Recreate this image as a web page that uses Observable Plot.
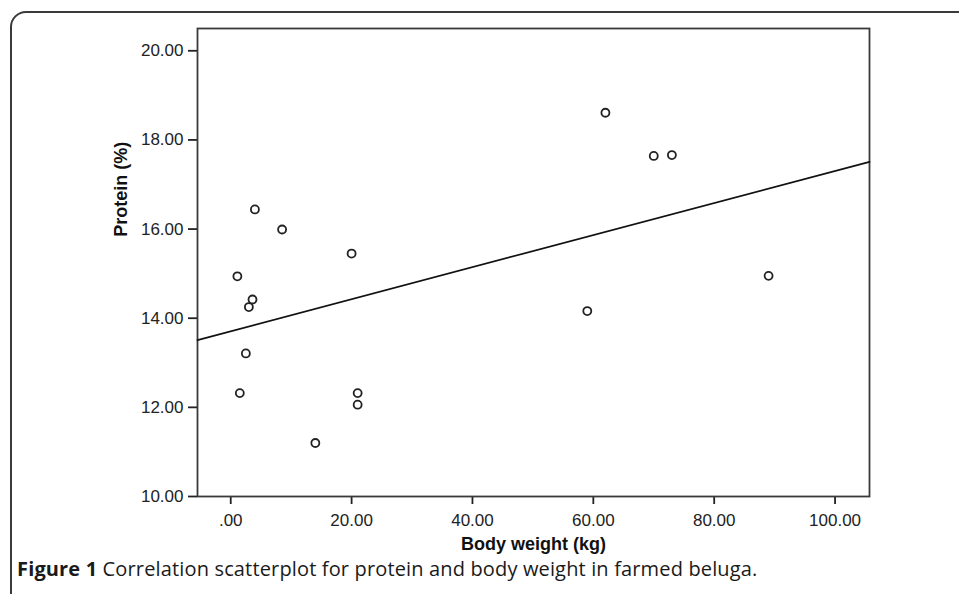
<!DOCTYPE html>
<html>
<head>
<meta charset="utf-8">
<script src="https://cdn.jsdelivr.net/npm/d3@7"></script>
<script src="https://cdn.jsdelivr.net/npm/@observablehq/plot@0.6"></script>
<style>
  html, body { margin: 0; padding: 0; background: #fff; overflow: hidden; }
  #wrap { position: relative; width: 959px; height: 594px; overflow: hidden; }
  #border { position: absolute; left: 10px; top: 11px; width: 1100px; height: 800px;
            border: 2px solid #3a3a3a; border-top-left-radius: 16px; box-sizing: border-box; }
  #chart { position: absolute; left: 0; top: 0; }
  #caption { position: absolute; left: 17px; top: 558px; font-family: "Open Sans", sans-serif;
             font-size: 20px; line-height: 22px; color: #1a1a1a; white-space: nowrap; letter-spacing: 0.15px; }
  #caption b { font-weight: 700; }
</style>
</head>
<body>
<div id="wrap">
  <div id="border"></div>
  <div id="chart"></div>
  <div id="caption"><b>Figure 1</b> Correlation scatterplot for protein and body weight in farmed beluga.</div>
</div>
<script>
// Data
const bodyWeight = [4.0, 8.5, 1.1, 3.6, 3.0, 2.5, 1.5, 20.0, 14.0, 21.0, 21.0, 62.0, 70.0, 73.0, 89.0, 59.0];
const protein    = [16.44, 15.99, 14.94, 14.42, 14.25, 13.21, 12.32, 15.45, 11.20, 12.32, 12.06, 18.61, 17.64, 17.66, 14.95, 14.16];

const xTicks = [0, 20, 40, 60, 80, 100];
const xTickLabels = [".00", "20.00", "40.00", "60.00", "80.00", "100.00"];
const yTicks = [10, 12, 14, 16, 18, 20];
const yTickLabels = ["10.00", "12.00", "14.00", "16.00", "18.00", "20.00"];
const xDomain = [-5.5, 105.7];
const yDomain = [10, 20.5];
const xTitle = "Body weight (kg)";
const yTitle = "Protein (%)";

const points = bodyWeight.map((w, i) => ({w, p: protein[i]}));

// least-squares fit line across the full x range
const mx = d3.mean(bodyWeight), my = d3.mean(protein);
const sxy = d3.sum(points, d => (d.w - mx) * (d.p - my));
const sxx = d3.sum(points, d => (d.w - mx) ** 2);
const slope = sxy / sxx, intercept = my - slope * mx;
const fit = xDomain.map(w => ({w, p: intercept + slope * w}));

const ink = "#222";

const chart = Plot.plot({
  width: 959,
  height: 560,
  marginLeft: 197,
  marginRight: 90,
  marginTop: 28,
  marginBottom: 64,
  style: {fontFamily: "Liberation Sans, Arial, sans-serif", fontSize: "17px", color: ink, background: "transparent"},
  x: {domain: xDomain},
  y: {domain: yDomain},
  marks: [
    Plot.axisX({ticks: xTicks, tickFormat: (d) => xTickLabels[xTicks.indexOf(d)], tickSize: 8, tickPadding: 9,
                strokeWidth: 1.8, label: null, fontSize: 17}),
    Plot.axisY({ticks: yTicks, tickFormat: (d) => yTickLabels[yTicks.indexOf(d)], tickSize: 9, tickPadding: 5,
                strokeWidth: 1.8, label: null, fontSize: 17}),
    Plot.frame({stroke: "#3a3a3a", strokeWidth: 1.8}),
    Plot.line(fit, {x: "w", y: "p", stroke: "#111", strokeWidth: 1.7}),
    Plot.dot(points, {x: "w", y: "p", r: 4, stroke: "#222", strokeWidth: 1.8, fill: "white"}),
    Plot.text([xTitle], {frameAnchor: "bottom", dy: 48, lineAnchor: "middle", fontWeight: "bold", fontSize: 18, fill: "#111"}),
    Plot.text([yTitle], {frameAnchor: "left", dx: -76, dy: -25.7, rotate: -90, lineAnchor: "middle", fontWeight: "bold", fontSize: 18, fill: "#111"})
  ]
});
document.getElementById("chart").appendChild(chart);
</script>
</body>
</html>
